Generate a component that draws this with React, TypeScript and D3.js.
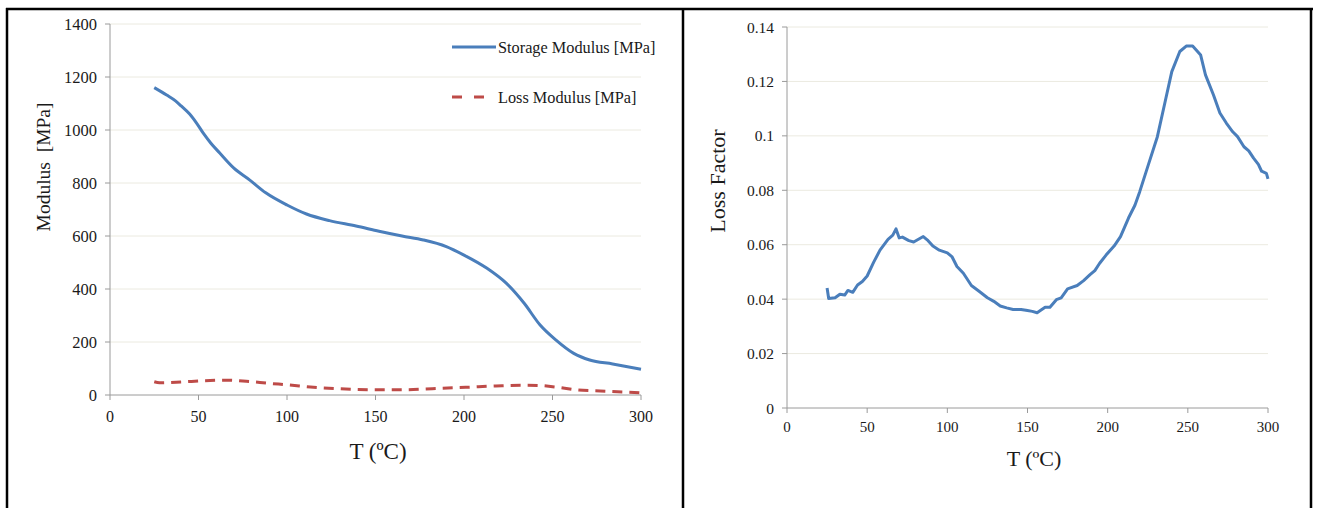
import React from "react";
import * as d3 from "d3";

// storage modulus [MPa] vs T
const storageT = [25, 32, 37, 40, 45, 49, 53, 57, 62, 70, 79, 88, 100, 111, 124, 139, 152, 165, 177, 190, 200, 213, 224, 234, 243, 252, 262, 271, 284, 300];
const storageV = [1160, 1132, 1110, 1092, 1060, 1025, 985, 950, 913, 856, 811, 763, 717, 683, 658, 638, 618, 600, 585, 560, 528, 478, 421, 346, 264, 207, 157, 132, 117, 97];

// loss modulus [MPa] vs T
const lossT = [25, 28, 40, 53, 66, 77, 90, 101, 115, 129, 149, 166, 182, 201, 218, 233, 242, 253, 264, 277, 291, 300];
const lossV = [50, 46, 49, 54, 56, 52, 44, 38, 29, 24, 20, 20, 24, 29, 34, 37, 36, 29, 19, 15, 11, 8];

// loss factor vs T
const factorT = [25, 26, 30, 33, 36, 38, 41, 44, 47, 50, 54, 58, 63, 66, 68, 70, 72, 76, 79, 82, 85, 88, 91, 95, 100, 103, 106, 110, 115, 120, 125, 129, 133, 137, 141, 146, 150, 153, 156, 158, 161, 164, 168, 171, 175, 181, 185, 189, 192, 195, 199, 204, 208, 213, 217, 220, 225, 231, 236, 240, 245, 249, 253, 258, 261, 266, 270, 274, 278, 281, 285, 288, 291, 294, 296, 299, 300];
const factorV = [0.0441, 0.0402, 0.0405, 0.0418, 0.0415, 0.0432, 0.0425, 0.0452, 0.0465, 0.0485, 0.0535, 0.058, 0.062, 0.0635, 0.0658, 0.0625, 0.0628, 0.0615, 0.061, 0.062, 0.063, 0.0615, 0.0595, 0.058, 0.057, 0.0555, 0.052, 0.0495, 0.045, 0.0428, 0.0405, 0.0392, 0.0375, 0.0368, 0.0362, 0.0362, 0.0358, 0.0355, 0.035, 0.0358, 0.037, 0.037, 0.0398, 0.0405, 0.0438, 0.045, 0.0468, 0.049, 0.0505, 0.0532, 0.0562, 0.0595, 0.063, 0.0698, 0.0745, 0.0795, 0.0887, 0.0997, 0.113, 0.1236, 0.131, 0.133, 0.133, 0.1297, 0.1224, 0.115, 0.1084, 0.1047, 0.1015, 0.0997, 0.096, 0.0945, 0.0918, 0.0895, 0.087, 0.0862, 0.0842];

const xTicks = [0, 50, 100, 150, 200, 250, 300];
const modulusTicks = [0, 200, 400, 600, 800, 1000, 1200, 1400];
const factorTicks = [0, 0.02, 0.04, 0.06, 0.08, 0.1, 0.12, 0.14];

const FONT = "'Liberation Serif', 'Times New Roman', serif";
const BLUE = "#4a7ebb";
const RED = "#be4b48";
const GRID = "#ebeae0";
const AXIS = "#9a9a9a";
const INK = "#1a1a1a";

const zip = (xs: number[], ys: number[]) => xs.map((x, i) => [x, ys[i]] as [number, number]);

export default function App() {
  // left panel scales
  const x1 = d3.scaleLinear().domain([0, 300]).range([110, 641]);
  const y1 = d3.scaleLinear().domain([0, 1400]).range([395, 24]);
  // right panel scales
  const x2 = d3.scaleLinear().domain([0, 300]).range([787, 1268]);
  const y2 = d3.scaleLinear().domain([0, 0.14]).range([408, 27]);

  const line1 = d3.line<[number, number]>().x(d => x1(d[0])).y(d => y1(d[1])).curve(d3.curveMonotoneX);
  const line2 = d3.line<[number, number]>().x(d => x2(d[0])).y(d => y2(d[1])).curve(d3.curveLinear);

  const fmtFactor = (v: number) => (v === 0 ? "0" : String(+v.toFixed(2)));

  return (
    <svg width={1317} height={508} style={{ position: "absolute", left: 0, top: 0 }}>
      <rect width={1317} height={508} fill="#fff" />

      {/* left panel */}
      {modulusTicks.filter(t => t > 0).map(t => (
        <line key={"g1" + t} x1={x1(0)} x2={x1(300)} y1={y1(t)} y2={y1(t)} stroke={GRID} />
      ))}
      <line x1={x1(0)} x2={x1(0)} y1={y1(0)} y2={y1(1400)} stroke={AXIS} />
      <line x1={x1(0)} x2={x1(300)} y1={y1(0)} y2={y1(0)} stroke={AXIS} />
      {modulusTicks.map(t => (
        <g key={"t1" + t}>
          <line x1={x1(0) - 5} x2={x1(0)} y1={y1(t)} y2={y1(t)} stroke={AXIS} />
          <text x={x1(0) - 13} y={y1(t) + 5.5} textAnchor="end" fontFamily={FONT} fontSize={16.5} fill={INK}>{t}</text>
        </g>
      ))}
      {xTicks.map(t => (
        <g key={"x1" + t}>
          <line x1={x1(t)} x2={x1(t)} y1={y1(0)} y2={y1(0) + 5} stroke={AXIS} />
          <text x={x1(t)} y={y1(0) + 27} textAnchor="middle" fontFamily={FONT} fontSize={16} fill={INK}>{t}</text>
        </g>
      ))}
      <path d={line1(zip(storageT, storageV)) ?? ""} fill="none" stroke={BLUE} strokeWidth={3} strokeLinejoin="round" />
      <path d={line1(zip(lossT, lossV)) ?? ""} fill="none" stroke={RED} strokeWidth={3} strokeDasharray="10 7" />
      <text x={378} y={459} textAnchor="middle" fontFamily={FONT} fontSize={23} fill={INK}>T (ºC)</text>
      <text transform="translate(50,167) rotate(-90)" textAnchor="middle" fontFamily={FONT} fontSize={19.5} fill={INK} style={{ whiteSpace: "pre" }}>Modulus  [MPa]</text>

      {/* legend */}
      <line x1={452} x2={496} y1={47} y2={47} stroke={BLUE} strokeWidth={3} />
      <text x={498} y={52.5} fontFamily={FONT} fontSize={16.3} fill={INK}>Storage Modulus [MPa]</text>
      <line x1={452} x2={488} y1={97} y2={97} stroke={RED} strokeWidth={3} strokeDasharray="10 12" />
      <text x={498} y={102.5} fontFamily={FONT} fontSize={16.3} fill={INK}>Loss Modulus [MPa]</text>

      {/* right panel */}
      {factorTicks.filter(t => t > 0).map(t => (
        <line key={"g2" + t} x1={x2(0)} x2={x2(300)} y1={y2(t)} y2={y2(t)} stroke={GRID} />
      ))}
      <line x1={x2(0)} x2={x2(0)} y1={y2(0)} y2={y2(0.14)} stroke={AXIS} />
      <line x1={x2(0)} x2={x2(300)} y1={y2(0)} y2={y2(0)} stroke={AXIS} />
      {factorTicks.map(t => (
        <g key={"t2" + t}>
          <line x1={x2(0) - 5} x2={x2(0)} y1={y2(t)} y2={y2(t)} stroke={AXIS} />
          <text x={x2(0) - 13} y={y2(t) + 5.5} textAnchor="end" fontFamily={FONT} fontSize={15.5} fill={INK}>{fmtFactor(t)}</text>
        </g>
      ))}
      {xTicks.map(t => (
        <g key={"x2" + t}>
          <line x1={x2(t)} x2={x2(t)} y1={y2(0)} y2={y2(0) + 5} stroke={AXIS} />
          <text x={x2(t)} y={y2(0) + 24} textAnchor="middle" fontFamily={FONT} fontSize={15} fill={INK}>{t}</text>
        </g>
      ))}
      <path d={line2(zip(factorT, factorV)) ?? ""} fill="none" stroke={BLUE} strokeWidth={3} strokeLinejoin="round" />
      <text x={1034} y={466} textAnchor="middle" fontFamily={FONT} fontSize={22} fill={INK}>T (ºC)</text>
      <text transform="translate(725,181) rotate(-90)" textAnchor="middle" fontFamily={FONT} fontSize={22} fill={INK}>Loss Factor</text>

      {/* frames */}
      <line x1={6} x2={1313} y1={9} y2={9} stroke="#000" strokeWidth={2.5} />
      <line x1={7} x2={7} y1={8} y2={508} stroke="#000" strokeWidth={2.5} />
      <line x1={683} x2={683} y1={8} y2={508} stroke="#000" strokeWidth={2.5} />
      <line x1={1311} x2={1311} y1={8} y2={508} stroke="#000" strokeWidth={2.5} />
    </svg>
  );
}
